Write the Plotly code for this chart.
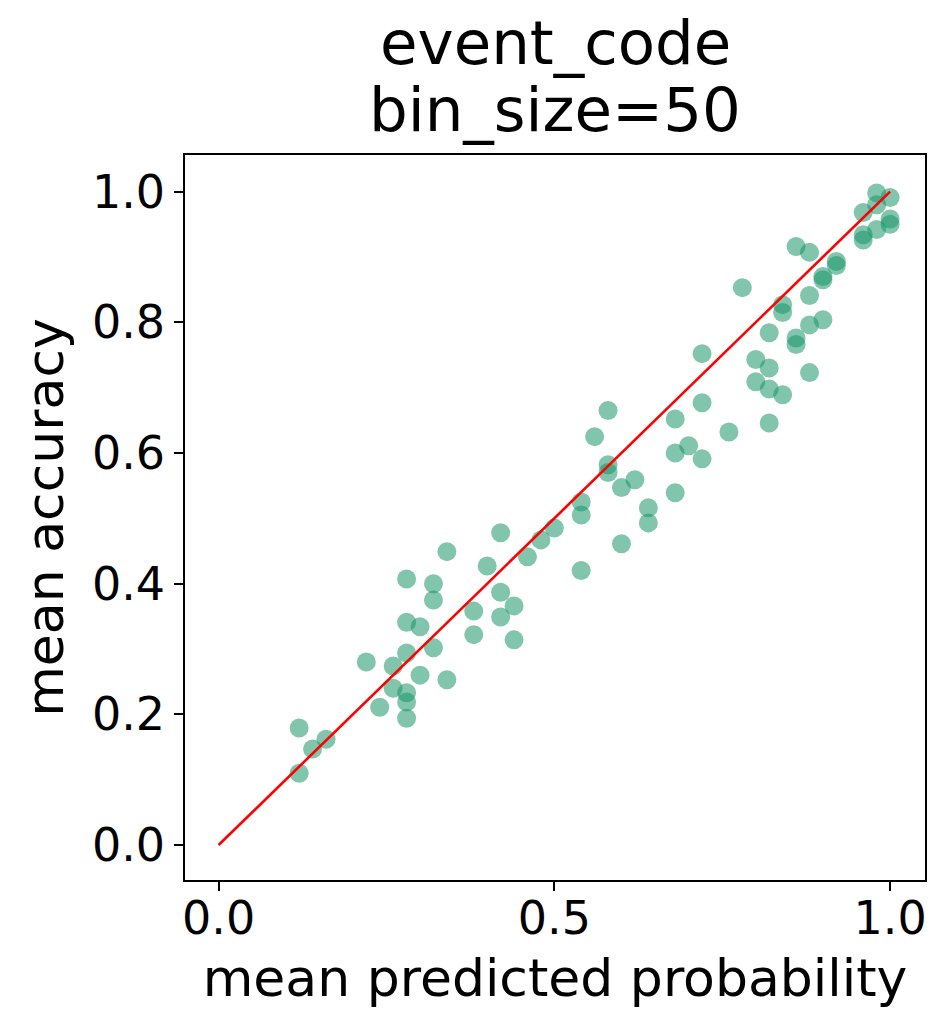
import plotly.graph_objects as go

# Calibration points (mean predicted probability, mean accuracy)
pred_prob = [
    0.12, 0.12, 0.14, 0.16, 0.22, 0.24, 0.26, 0.26, 0.28, 0.28,
    0.28, 0.28, 0.28, 0.28, 0.30, 0.30, 0.32, 0.32, 0.32, 0.34,
    0.34, 0.38, 0.38, 0.40, 0.42, 0.42, 0.42, 0.44, 0.44, 0.46,
    0.48, 0.50, 0.54, 0.54, 0.54, 0.56, 0.58, 0.58, 0.58, 0.60,
    0.60, 0.62, 0.64, 0.64, 0.68, 0.68, 0.68, 0.70, 0.72, 0.72,
    0.72, 0.76, 0.78, 0.80, 0.80, 0.82, 0.82, 0.82, 0.82, 0.84,
    0.84, 0.84, 0.86, 0.86, 0.86, 0.88, 0.88, 0.88, 0.88, 0.90,
    0.90, 0.90, 0.92, 0.92, 0.96, 0.96, 0.96, 0.98, 0.98, 0.98,
    1.00, 1.00, 1.00,
]
accuracy = [
    0.179, 0.110, 0.147, 0.162, 0.280, 0.211, 0.274, 0.240, 0.407, 0.341,
    0.294, 0.233, 0.219, 0.194, 0.334, 0.260, 0.400, 0.375, 0.302, 0.449,
    0.253, 0.358, 0.322, 0.427, 0.478, 0.387, 0.349, 0.366, 0.314, 0.441,
    0.467, 0.485, 0.525, 0.505, 0.420, 0.625, 0.665, 0.582, 0.570, 0.547,
    0.461, 0.559, 0.516, 0.493, 0.652, 0.600, 0.539, 0.611, 0.752, 0.677,
    0.591, 0.632, 0.853, 0.743, 0.709, 0.784, 0.730, 0.698, 0.646, 0.827,
    0.815, 0.689, 0.916, 0.776, 0.766, 0.907, 0.841, 0.796, 0.723, 0.870,
    0.865, 0.804, 0.893, 0.887, 0.968, 0.934, 0.926, 0.998, 0.980, 0.942,
    0.991, 0.958, 0.950,
]

diag_x = [0.0, 1.0]
diag_y = [0.0, 1.0]

x_ticks = [0.0, 0.5, 1.0]
x_tick_labels = ["0.0", "0.5", "1.0"]
y_ticks = [0.0, 0.2, 0.4, 0.6, 0.8, 1.0]
y_tick_labels = ["0.0", "0.2", "0.4", "0.6", "0.8", "1.0"]

title_lines = ["event_code", "bin_size=50"]
x_label = "mean predicted probability"
y_label = "mean accuracy"

FONT = "DejaVu Sans"

fig = go.Figure()
fig.add_trace(go.Scatter(
    x=pred_prob, y=accuracy, mode="markers",
    marker=dict(size=19, color="rgba(25,150,105,0.55)", line=dict(width=0)),
    showlegend=False, hoverinfo="skip",
))
fig.add_trace(go.Scatter(
    x=diag_x, y=diag_y, mode="lines",
    line=dict(color="red", width=2.6),
    showlegend=False, hoverinfo="skip",
))

axis_common = dict(
    showgrid=False, zeroline=False,
    showline=True, linecolor="black", linewidth=1.5, mirror=True,
    ticks="outside", tickwidth=1.5, tickcolor="black",
    tickfont=dict(family=FONT, size=46, color="black"),
)

# title lines as annotations above the plot area
for txt, ypos in zip(title_lines, [1.155, 1.063]):
    fig.add_annotation(
        text=txt, xref="paper", yref="paper", x=0.5, y=ypos,
        xanchor="center", yanchor="middle", showarrow=False,
        font=dict(family=FONT, size=61, color="black"),
    )

fig.update_layout(
    width=935, height=1002,
    paper_bgcolor="white", plot_bgcolor="white",
    margin=dict(l=177, r=18, t=147, b=130, autoexpand=False),
    xaxis=dict(
        range=[-0.05, 1.052],
        tickvals=x_ticks, ticktext=x_tick_labels, ticklen=9,
        ticklabelstandoff=-12,
        title=dict(text=x_label, font=dict(family=FONT, size=52, color="black"), standoff=16),
        **axis_common,
    ),
    yaxis=dict(
        range=[-0.0535, 1.056],
        tickvals=y_ticks, ticktext=y_tick_labels, ticklen=9,
        title=dict(text=y_label, font=dict(family=FONT, size=52, color="black"), standoff=12),
        **axis_common,
    ),
)

fig.write_html("out.html")
